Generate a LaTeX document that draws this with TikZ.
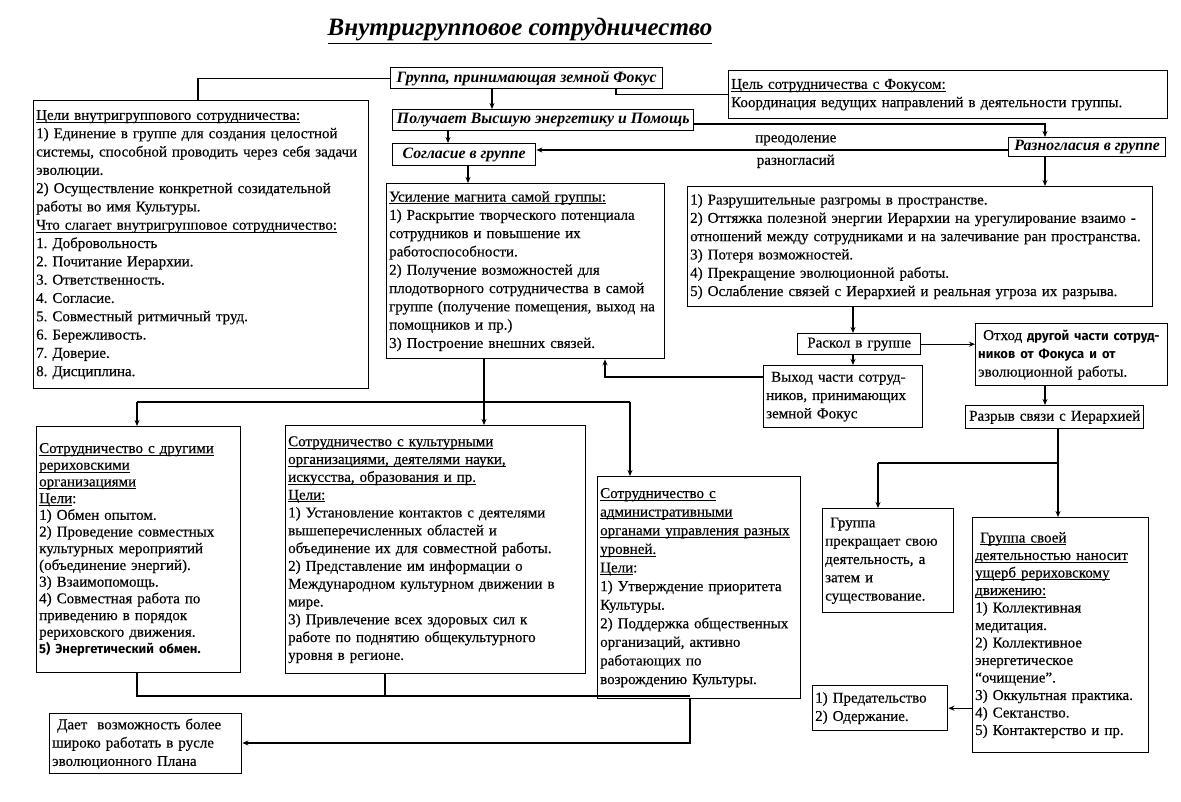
\documentclass[tikz,border=0pt]{standalone}
\usepackage{fontspec}
\setmainfont{Liberation Serif}[UprightFeatures={FakeBold=0.3}]
\newfontfamily\hand{Fira Sans}
\usetikzlibrary{arrows.meta,calc}
\frenchspacing
\newsavebox{\ulbox}
\newcommand{\ul}[1]{\leavevmode\sbox{\ulbox}{#1}\rlap{\rule[-2.6pt]{\wd\ulbox}{0.75pt}}\usebox{\ulbox}}
\tikzset{
  box/.style={draw, line width=1.4pt, inner xsep=2.5pt, inner ysep=2pt, anchor=north west, align=left,
     font=\fontsize{15}{18.3}\selectfont},
  hbox/.style={draw, line width=1.4pt, inner sep=2pt, anchor=north west, align=center,
     font=\fontsize{15.8}{18}\selectfont\bfseries\itshape},
  conn/.style={line width=1.1pt},
  arr/.style={line width=1.1pt, -{Stealth[length=6pt,width=5pt]}},
  lbl/.style={font=\fontsize{15}{16}\selectfont, inner sep=0pt}
}
\newcommand{\hw}[1]{{\hand\bfseries\fontsize{13}{16}\selectfont #1}}
\begin{document}
\begin{tikzpicture}[x=1pt,y=-1pt]
\useasboundingbox (0,0) rectangle (1181,802);
\fill[white] (0,0) rectangle (1181,802);

\node[font=\fontsize{25}{28}\selectfont\bfseries\itshape, inner sep=0pt] (title) at (520,31) {\underline{Внутригрупповое сотрудничество}};

% top chain
\node[hbox, minimum width=272pt, minimum height=21pt] (A) at (390,67) {Группа, принимающая земной Фокус};
\node[hbox, minimum width=301pt, minimum height=21pt] (C) at (392,109) {Получает Высшую энергетику и Помощь};
\node[hbox, minimum width=143pt, minimum height=22pt] (F) at (392,143) {Согласие в группе};
\node[hbox, minimum width=157pt, minimum height=19pt] (E) at (1008,137) {Разногласия в группе};

\node[box, text width=434pt, minimum height=48pt] (D) at (728,70)
 {\ul{Цель сотрудничества с Фокусом:}\\Координация ведущих направлений в деятельности группы.};

\node[box, text width=330pt, minimum height=288pt] (B) at (33,100)
 {\ul{Цели внутригруппового сотрудничества:}\\
  1) Единение в группе для создания целостной\\
  системы, способной проводить через себя задачи\\
  эволюции.\\
  2) Осуществление конкретной созидательной\\
  работы во имя Культуры.\\
  \ul{Что слагает внутригрупповое сотрудничество:}\\
  1. Добровольность\\
  2. Почитание Иерархии.\\
  3. Ответственность.\\
  4. Согласие.\\
  5. Совместный ритмичный труд.\\
  6. Бережливость.\\
  7. Доверие.\\
  8. Дисциплина.};

\node[box, text width=273pt, minimum height=175pt] (G) at (386,183)
 {\ul{Усиление магнита самой группы:}\\
  1) Раскрытие творческого потенциала\\
  сотрудников и повышение их\\
  работоспособности.\\
  2) Получение возможностей для\\
  плодотворного сотрудничества в самой\\
  группе (получение помещения, выход на\\
  помощников и пр.)\\
  3) Построение внешних связей.};

\node[box, text width=460pt, minimum height=120pt] (H) at (687,186)
 {1) Разрушительные разгромы в пространстве.\\
  2) Оттяжка полезной энергии Иерархии на урегулирование взаимо -\\
  отношений между сотрудниками и на залечивание ран пространства.\\
  3) Потеря возможностей.\\
  4) Прекращение эволюционной работы.\\
  5) Ослабление связей с Иерархией и реальная угроза их разрыва.};

\node[box, align=center, text width=118pt, minimum height=21pt] (I) at (797,333) {Раскол в группе};

\node[box, text width=187pt, minimum height=62pt] (J) at (975,323)
 {\ Отход \hw{другой части сотруд-}\\
  \hw{ников от Фокуса и от}\\
  эволюционной работы.};

\node[box, text width=154pt, minimum height=62pt] (K) at (763,365)
 {\ Выход части сотруд-\\ников, принимающих\\земной Фокус};

\node[box, align=center, text width=173pt, minimum height=23pt] (L) at (965,405) {Разрыв связи с Иерархией};

\node[box, text width=126pt, minimum height=104pt] (M) at (822,508)
 {\ Группа\\прекращает свою\\деятельность, а\\затем и\\существование.};

\node[box, text width=171pt, minimum height=235pt, font=\fontsize{15}{17.5}\selectfont] (N) at (972,517)
 {\ \ul{Группа своей}\\
  \ul{деятельностью наносит}\\
  \ul{ущерб рериховскому}\\
  \ul{движению:}\\
  1) Коллективная\\
  медитация.\\
  2) Коллективное\\
  энергетическое\\
  “очищение”.\\
  3) Оккультная практика.\\
  4) Сектанство.\\
  5) Контактерство и пр.};

\node[box, text width=130pt, minimum height=45pt] (O) at (812,685)
 {1) Предательство\\2) Одержание.};

\node[box, text width=199pt, minimum height=246pt, font=\fontsize{15}{16.7}\selectfont] (P) at (36,426)
 {\ul{Сотрудничество с другими}\\
  \ul{рериховскими}\\
  \ul{организациями}\\
  \ul{Цели}:\\
  1) Обмен опытом.\\
  2) Проведение совместных\\
  культурных мероприятий\\
  (объединение энергий).\\
  3) Взаимопомощь.\\
  4) Совместная работа по\\
  приведению в порядок\\
  рериховского движения.\\
  \hw{5) Энергетический обмен.}};

\node[box, text width=295pt, minimum height=248pt, font=\fontsize{15}{17.8}\selectfont] (Q) at (285,425)
 {\ul{Сотрудничество с культурными}\\
  \ul{организациями, деятелями науки,}\\
  \ul{искусства, образования и пр.}\\
  \ul{Цели:}\\
  1) Установление контактов с деятелями\\
  вышеперечисленных областей и\\
  объединение их для совместной работы.\\
  2) Представление им информации о\\
  Международном культурном движении в\\
  мире.\\
  3) Привлечение всех здоровых сил к\\
  работе по поднятию общекультурного\\
  уровня в регионе.};

\node[box, text width=198pt, minimum height=222pt, font=\fontsize{15}{18.6}\selectfont] (R) at (597,476)
 {\ul{Сотрудничество с}\\
  \ul{административными}\\
  \ul{органами управления разных}\\
  \ul{уровней.}\\
  \ul{Цели}:\\
  1) Утверждение приоритета\\
  Культуры.\\
  2) Поддержка общественных\\
  организаций, активно\\
  работающих по\\
  возрождению Культуры.};

\node[box, text width=187pt, minimum height=60pt] (S) at (49,713)
 {\ Дает\ \ возможность более\\широко работать в русле\\эволюционного Плана};

% helper coordinates
\coordinate (x137) at (137,0);
\coordinate (x198) at (198,0);
\coordinate (x385) at (385,0);
\coordinate (x448) at (448,0);
\coordinate (x468) at (468,0);
\coordinate (x484) at (484,0);
\coordinate (x492) at (492,0);
\coordinate (x605) at (605,0);
\coordinate (x616) at (616,0);
\coordinate (x630) at (630,0);
\coordinate (x690) at (690,0);
\coordinate (x853) at (853,0);
\coordinate (x878) at (878,0);
\coordinate (x1045) at (1045,0);
\coordinate (x1058) at (1058,0);
\coordinate (y124) at (0,124);
\coordinate (y150) at (0,150);
\coordinate (y377) at (0,377);
\coordinate (y402) at (0,402);
\coordinate (y463) at (0,463);
\coordinate (y696) at (0,696);
\coordinate (y743) at (0,743);

% connectors
\draw[conn] (A.west) -| (B.north -| x198);
\draw[arr] (A.south -| x492) -- (C.north -| x492);
\draw[conn] (A.south -| x616) |- (D.west);
\draw[arr] (C.east |- y124) -| (E.north -| x1045);
\draw[arr] (E.west |- y150) -- (F.east |- y150)
  node[lbl, pos=0.45, above=4pt] (ovc) {преодоление}
  node[lbl, pos=0.45, below=4pt] (raz) {разногласий};
\draw[arr] (C.south -| x448) -- (F.north -| x448);
\draw[arr] (F.south -| x468) -- (G.north -| x468);
\draw[arr] (E.south -| x1045) -- (H.north -| x1045);
\draw[arr] (H.south -| x853) -- (I.north -| x853);
\draw[arr] (I.east) -- (I.east -| J.west);
\draw[arr] (I.south -| x853) -- (K.north -| x853);
\draw[arr] (K.west |- y377) -| (G.south -| x605);
\draw[arr] (J.south -| x1045) -- (L.north -| x1045);
\draw[conn] (L.south -| x1058) -- (x1058 |- y463) -| (x878 |- y463);
\draw[arr] (x878 |- y463) -- (M.north -| x878);
\draw[arr] (x1058 |- y463) -- (N.north -| x1058);
\draw[arr] (N.west |- O.east) -- (O.east);
\draw[conn] (G.south -| x484) -- (x484 |- y402);
\draw[conn] (x137 |- y402) -- (x630 |- y402);
\draw[arr] (x137 |- y402) -- (P.north -| x137);
\draw[arr] (x484 |- y402) -- (Q.north -| x484);
\draw[arr] (x630 |- y402) -- (R.north -| x630);
\draw[conn] (P.south -| x137) |- (x690 |- y696);
\draw[conn] (Q.south -| x385) -- (x385 |- y696);
\draw[arr] (R.south -| x690) |- (S.east |- y743);
\end{tikzpicture}
\end{document}
